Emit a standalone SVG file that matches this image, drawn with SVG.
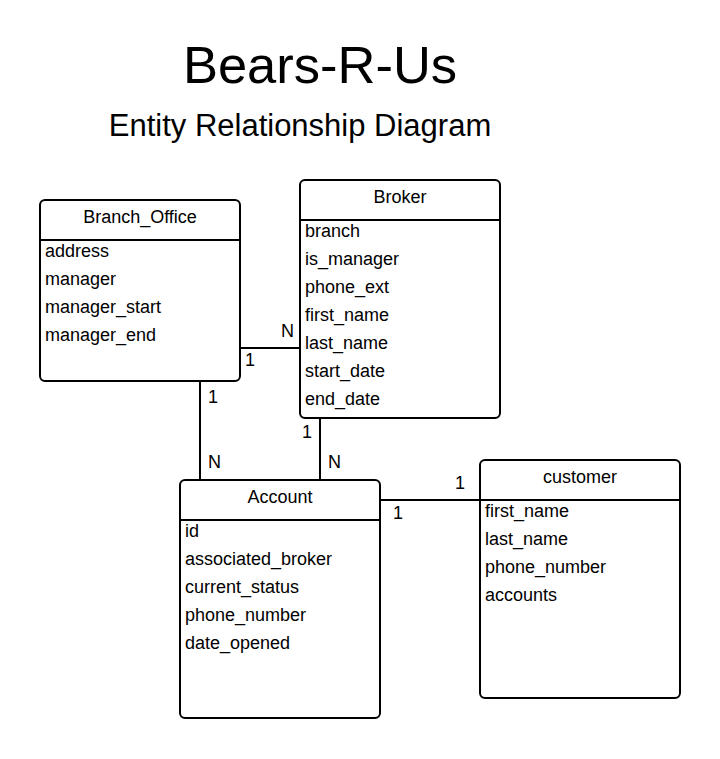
<svg xmlns="http://www.w3.org/2000/svg" width="720" height="759" viewBox="0 0 720 759">
<style>
text{font-family:"Liberation Sans",Arial,sans-serif;fill:#000}
.box{fill:#fff;stroke:#000;stroke-width:2}
.sep{stroke:#000;stroke-width:2}
.hd{font-size:18px;text-anchor:middle}
.at{font-size:18px}
.lb{font-size:18px}
.cn{stroke:#000;stroke-width:2;fill:none}
</style>
<rect width="720" height="759" fill="#fff"/>
<text x="320" y="83" font-size="52.5" text-anchor="middle">Bears-R-Us</text>
<text x="300" y="136" font-size="31" text-anchor="middle">Entity Relationship Diagram</text>
<g id="connectors">
<line class="cn" x1="240" y1="348" x2="300" y2="348"/>
<line class="cn" x1="200" y1="381" x2="200" y2="480"/>
<line class="cn" x1="320" y1="418" x2="320" y2="480"/>
<line class="cn" x1="380" y1="500" x2="480" y2="500"/>
<text class="lb" x="281" y="337">N</text>
<text class="lb" x="245" y="366">1</text>
<text class="lb" x="208" y="403">1</text>
<text class="lb" x="208" y="468">N</text>
<text class="lb" x="302" y="438">1</text>
<text class="lb" x="328" y="468">N</text>
<text class="lb" x="455" y="489">1</text>
<text class="lb" x="393" y="519">1</text>
</g>
<g id="branch_office">
<rect class="box" x="40" y="200" width="200" height="181" rx="5"/>
<line class="sep" x1="40" y1="240" x2="240" y2="240"/>
<text class="hd" x="140" y="223">Branch_Office</text>
<text class="at" x="45" y="257">address</text>
<text class="at" x="45" y="285">manager</text>
<text class="at" x="45" y="313">manager_start</text>
<text class="at" x="45" y="341">manager_end</text>
</g>
<g id="broker">
<rect class="box" x="300" y="180" width="200" height="238" rx="5"/>
<line class="sep" x1="300" y1="220" x2="500" y2="220"/>
<text class="hd" x="400" y="203">Broker</text>
<text class="at" x="305" y="237">branch</text>
<text class="at" x="305" y="265">is_manager</text>
<text class="at" x="305" y="293">phone_ext</text>
<text class="at" x="305" y="321">first_name</text>
<text class="at" x="305" y="349">last_name</text>
<text class="at" x="305" y="377">start_date</text>
<text class="at" x="305" y="405">end_date</text>
</g>
<g id="account">
<rect class="box" x="180" y="480" width="200" height="238" rx="5"/>
<line class="sep" x1="180" y1="520" x2="380" y2="520"/>
<text class="hd" x="280" y="503">Account</text>
<text class="at" x="185" y="537">id</text>
<text class="at" x="185" y="565">associated_broker</text>
<text class="at" x="185" y="593">current_status</text>
<text class="at" x="185" y="621">phone_number</text>
<text class="at" x="185" y="649">date_opened</text>
</g>
<g id="customer">
<rect class="box" x="480" y="460" width="200" height="238" rx="5"/>
<line class="sep" x1="480" y1="500" x2="680" y2="500"/>
<text class="hd" x="580" y="483">customer</text>
<text class="at" x="485" y="517">first_name</text>
<text class="at" x="485" y="545">last_name</text>
<text class="at" x="485" y="573">phone_number</text>
<text class="at" x="485" y="601">accounts</text>
</g>
</svg>
